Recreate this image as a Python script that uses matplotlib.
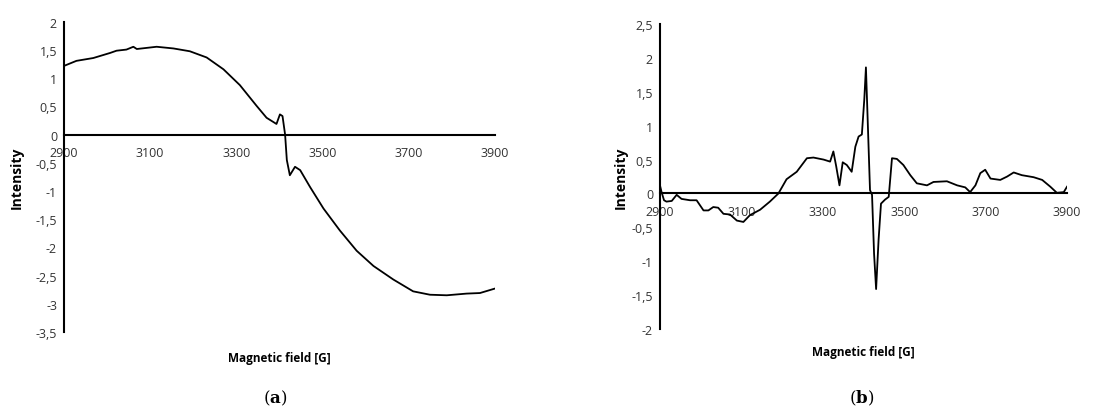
import matplotlib.pyplot as plt
from matplotlib.ticker import FuncFormatter

plt.rcParams["font.family"] = ["Open Sans", "DejaVu Sans"]
plt.rcParams["mathtext.fontset"] = "dejavuserif"

# panel (a): broad EPR signal
field_a = [2900, 2929, 2968, 3007, 3022, 3045, 3061, 3069, 3115, 3154, 3192, 3231,
           3270, 3308, 3347, 3370, 3393, 3401, 3407, 3413, 3417, 3424, 3436, 3448,
           3471, 3502, 3540, 3579, 3618, 3664, 3710, 3749, 3788, 3834, 3865, 3900]
intensity_a = [1.22, 1.31, 1.36, 1.45, 1.49, 1.51, 1.56, 1.52, 1.56, 1.53, 1.48, 1.37,
               1.16, 0.88, 0.51, 0.30, 0.19, 0.36, 0.33, 0.0, -0.45, -0.72, -0.57, -0.63,
               -0.93, -1.31, -1.70, -2.06, -2.33, -2.57, -2.78, -2.84, -2.85, -2.82, -2.81, -2.73]

# panel (b): narrow EPR signal
field_b = [2900, 2904, 2910, 2916, 2929, 2941, 2953, 2974, 2990, 3007, 3019, 3031,
           3043, 3056, 3072, 3089, 3105, 3121, 3146, 3170, 3191, 3211, 3236, 3261,
           3277, 3302, 3318, 3326, 3333, 3341, 3349, 3359, 3371, 3380, 3388, 3396,
           3402, 3406, 3410, 3416, 3421, 3426, 3431, 3437, 3443, 3453, 3462, 3470,
           3482, 3498, 3515, 3531, 3556, 3572, 3605, 3630, 3650, 3662, 3675, 3687,
           3699, 3712, 3736, 3753, 3769, 3789, 3818, 3839, 3859, 3875, 3892, 3900]
intensity_b = [0.12, 0.02, -0.10, -0.12, -0.11, -0.02, -0.08, -0.10, -0.10, -0.25, -0.25, -0.20,
               -0.21, -0.30, -0.31, -0.40, -0.42, -0.32, -0.24, -0.12, 0.0, 0.21, 0.32, 0.52,
               0.53, 0.50, 0.47, 0.62, 0.40, 0.12, 0.46, 0.42, 0.32, 0.69, 0.84, 0.87,
               1.39, 1.86, 1.14, 0.05, -0.02, -0.89, -1.41, -0.69, -0.15, -0.09, -0.05, 0.52,
               0.51, 0.42, 0.27, 0.15, 0.12, 0.17, 0.18, 0.12, 0.09, 0.02, 0.12, 0.30,
               0.35, 0.22, 0.20, 0.25, 0.31, 0.27, 0.24, 0.20, 0.10, 0.01, 0.02, 0.10]

x_ticks = [2900, 3100, 3300, 3500, 3700, 3900]
y_ticks_a = [-3.5, -3, -2.5, -2, -1.5, -1, -0.5, 0, 0.5, 1, 1.5, 2]
y_ticks_b = [-2, -1.5, -1, -0.5, 0, 0.5, 1, 1.5, 2, 2.5]


def comma(v, pos=None):
    s = f"{v:g}"
    return s.replace(".", ",")


def style_axes(ax, yticks):
    ax.set_xlim(2900, 3900)
    ax.set_ylim(yticks[0], yticks[-1])
    ax.set_xticks(x_ticks)
    ax.set_yticks(yticks)
    ax.xaxis.set_major_formatter(FuncFormatter(comma))
    ax.yaxis.set_major_formatter(FuncFormatter(comma))
    for side in ["top", "right"]:
        ax.spines[side].set_visible(False)
    ax.spines["bottom"].set_position(("data", 0))
    ax.spines["bottom"].set_linewidth(1.5)
    ax.spines["left"].set_linewidth(1.5)
    ax.tick_params(axis="both", length=0, labelsize=9, colors="#333333")
    ax.tick_params(axis="x", pad=8)
    ax.tick_params(axis="y", pad=5)
    ax.set_xlabel("Magnetic field [G]", fontsize=8.5, fontweight="bold")
    ax.set_ylabel("Intensity", fontsize=10, fontweight="bold")


fig = plt.figure(figsize=(11.18, 4.10), dpi=100)
ax_a = fig.add_axes([0.0572, 0.188, 0.3856, 0.756])
ax_b = fig.add_axes([0.5903, 0.195, 0.3641, 0.744])

ax_a.plot(field_a, intensity_a, color="black", lw=1.3)
ax_b.plot(field_b, intensity_b, color="black", lw=1.3)

style_axes(ax_a, y_ticks_a)
style_axes(ax_b, y_ticks_b)

ax_a.xaxis.set_label_coords(0.5, -0.062)
ax_b.xaxis.set_label_coords(0.5, -0.052)
ax_a.yaxis.set_label_coords(-0.093, 0.5)
ax_b.yaxis.set_label_coords(-0.079, 0.5)

# panel letters: plain parentheses, bold letter
for x, letter in [(0.246, "a"), (0.771, "b")]:
    fig.text(x, 0.015, rf"($\mathbf{{{letter}}}$)", fontsize=12,
             family="DejaVu Serif", ha="center")

fig.savefig("out.png", dpi=100)
